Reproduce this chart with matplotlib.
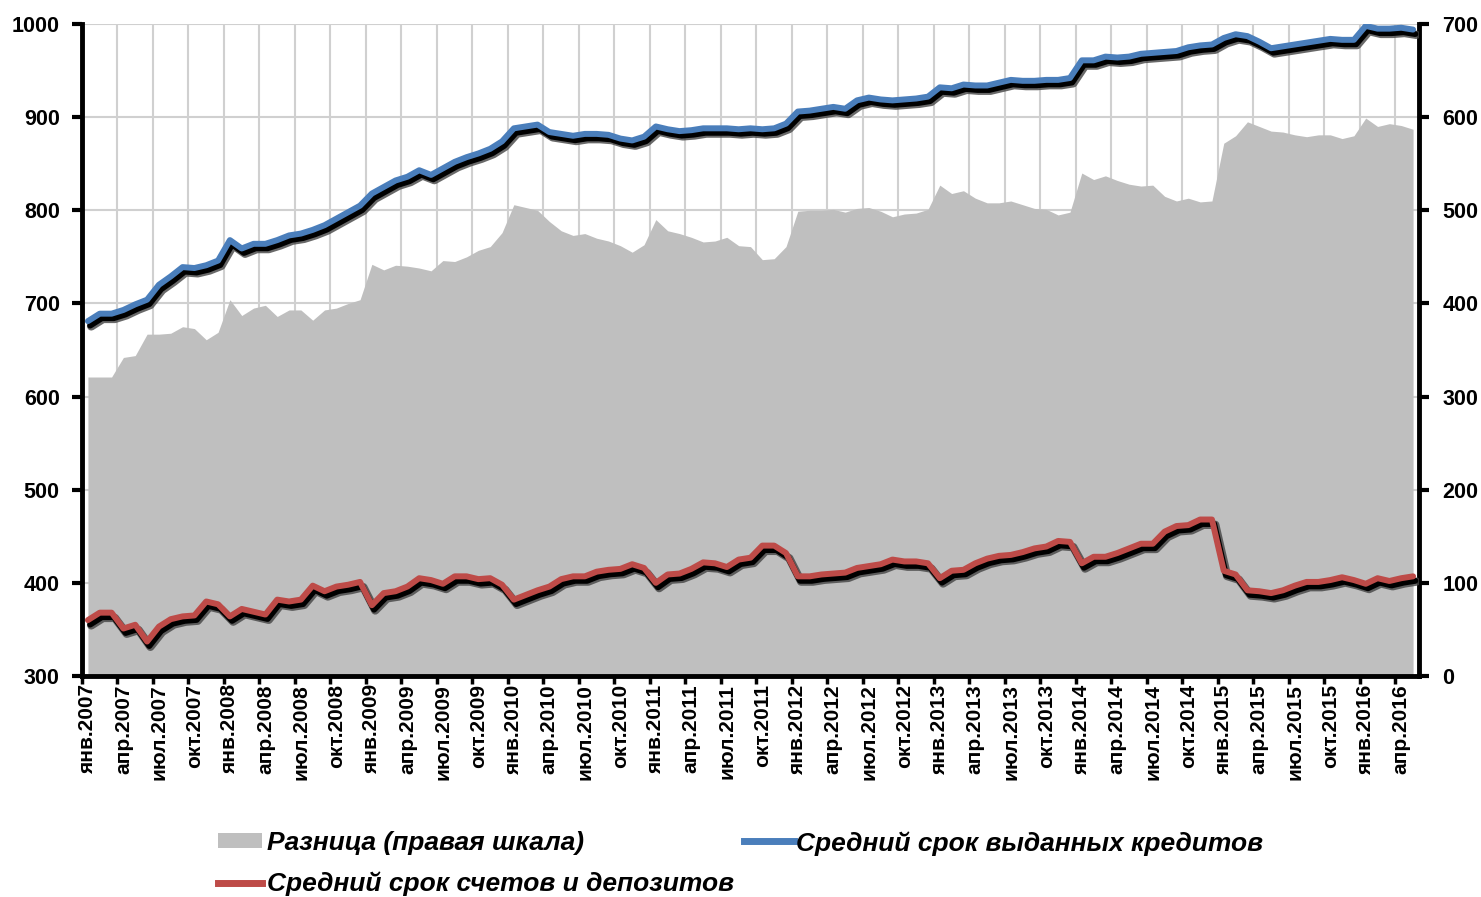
import numpy as np
import matplotlib
matplotlib.use('Agg')
import matplotlib.pyplot as plt
import matplotlib.patheffects as pe
from matplotlib.patches import Patch
from matplotlib.lines import Line2D

plt.rcParams['font.family'] = ['Liberation Sans', 'DejaVu Sans']

# monthly data, янв.2007 - май.2016
months_ru = ['янв', 'фев', 'мар', 'апр', 'май', 'июн', 'июл', 'авг', 'сен', 'окт', 'ноя', 'дек']
start_year = 2007
n_months = 113

# Средний срок выданных кредитов (left scale)
loans = [681, 689, 689, 693, 699, 704, 720, 729, 739, 738, 741, 746,
         768, 759, 764, 764, 768, 773, 775, 779, 784, 791, 798, 805,
         818, 825, 832, 836, 843, 838, 845, 852, 857, 861, 866, 874,
         888, 890, 892, 884, 882, 880, 882, 882, 881, 877, 875, 879,
         890, 887, 885, 886, 888, 888, 888, 887, 888, 887, 888, 893,
         906, 907, 909, 911, 909, 918, 921, 919, 918, 919, 920, 922,
         932, 931, 935, 934, 934, 937, 940, 939, 939, 940, 940, 942,
         961, 961, 965, 964, 965, 968, 969, 970, 971, 975, 977, 978,
         985, 989, 987, 981, 974, 976, 978, 980, 982, 984, 983, 983,
         998, 995, 995, 996, 994]

# Средний срок счетов и депозитов (left scale)
deposits = [360, 368, 368, 351, 355, 337, 353, 361, 364, 365, 380, 377,
            364, 372, 369, 366, 382, 380, 382, 397, 391, 396, 398, 401,
            376, 389, 391, 396, 405, 403, 399, 407, 407, 404, 405, 398,
            382, 387, 392, 396, 404, 407, 407, 412, 414, 415, 420, 416,
            400, 409, 410, 415, 422, 421, 417, 425, 427, 440, 440, 432,
            407, 407, 409, 410, 411, 416, 418, 420, 425, 423, 423, 421,
            405, 413, 414, 421, 426, 429, 430, 433, 437, 439, 445, 444,
            421, 428, 428, 432, 437, 442, 442, 455, 461, 462, 468, 468,
            413, 409, 392, 391, 389, 392, 397, 401, 401, 403, 406, 403,
            399, 405, 402, 405, 407]

labels = [f'{months_ru[i % 12]}.{start_year + i // 12}' for i in range(n_months)]

x = np.arange(n_months)
loans = np.array(loans)
deposits = np.array(deposits)
diff = loans - deposits  # Разница (правая шкала)

fig = plt.figure(figsize=(14.81, 8.97), dpi=100)
ax2 = fig.add_axes([82 / 1481, 1 - 676 / 897, (1419 - 82) / 1481, (676 - 24) / 897])
ax = ax2.twinx()
ax.set_zorder(ax2.get_zorder() + 1)
ax.patch.set_visible(False)

# gray area on right scale, with grid underneath
ax2.fill_between(x, 0, diff, color='#bfbfbf', lw=0, zorder=2)
ax2.set_ylim(0, 700)
ax2.set_yticks(range(0, 701, 100))
ax2.set_xlim(-0.5, n_months - 0.5)
ax2.set_xticks(np.arange(-0.5, n_months - 0.5, 3))
ax2.set_xticks(np.arange(0, n_months, 3), minor=True)
ax2.set_xticklabels([], minor=False)
ax2.set_xticklabels([labels[i] for i in range(0, n_months, 3)], minor=True,
                    rotation=90, fontsize=15, fontweight='bold')
ax2.tick_params(axis='x', which='major', direction='out', length=6, width=2.5)
ax2.tick_params(axis='x', which='minor', length=0, pad=6)
ax2.grid(True, which='major', color='#d0d0d0', lw=1.5, zorder=0)
ax2.set_axisbelow(True)
ax2.yaxis.tick_right()
ax2.tick_params(axis='y', direction='out', length=7, width=3, labelsize=15.5, pad=10)
for t in ax2.get_yticklabels():
    t.set_fontweight('bold')

# lines on left scale
shadow = [pe.SimpleLineShadow(offset=(2.4, -3.8), shadow_color='#444444', alpha=0.8, linewidth=6),
          pe.SimpleLineShadow(offset=(1.6, -3.2), shadow_color='black', alpha=1.0),
          pe.Normal()]
ax.plot(x, loans, color='#4a7ebb', lw=4.3, path_effects=shadow, solid_capstyle='round')
ax.plot(x, deposits, color='#be4b48', lw=4.3, path_effects=shadow, solid_capstyle='round')
ax.set_ylim(300, 1000)
ax.set_yticks(range(300, 1001, 100))
ax.yaxis.tick_left()
ax.tick_params(axis='y', direction='out', length=7, width=3, labelsize=15.5, pad=9)
for t in ax.get_yticklabels():
    t.set_fontweight('bold')

for a in (ax, ax2):
    a.spines['top'].set_visible(False)
ax.spines['right'].set_visible(False)
ax.spines['bottom'].set_visible(False)
ax.spines['left'].set_linewidth(3.5)
ax2.spines['left'].set_visible(False)
ax2.spines['right'].set_linewidth(3.5)
ax2.spines['bottom'].set_linewidth(3.5)

# legend
leg_font = {'family': ['Liberation Sans', 'DejaVu Sans'], 'weight': 'bold', 'style': 'italic', 'size': 19}
h_diff = Patch(facecolor='#bfbfbf', edgecolor='none')
h_dep = Line2D([], [], color='#be4b48', lw=5)
h_loan = Line2D([], [], color='#4a7ebb', lw=5)
leg1 = fig.legend([h_diff, h_dep], ['Разница (правая шкала)', 'Средний срок счетов и депозитов'],
                  loc='upper left', bbox_to_anchor=(218 / 1481, 1 - 831 / 897), frameon=False,
                  prop=leg_font, handlelength=1.65, handleheight=0.5, handletextpad=0.2,
                  labelspacing=0.62, borderpad=0, borderaxespad=0)
leg2 = fig.legend([h_loan], ['Средний срок выданных кредитов'],
                  loc='upper left', bbox_to_anchor=(744 / 1481, 1 - 831 / 897), frameon=False,
                  prop=leg_font, handlelength=1.9, handletextpad=0.08,
                  borderpad=0, borderaxespad=0)

fig.savefig('out.png', dpi=100)
